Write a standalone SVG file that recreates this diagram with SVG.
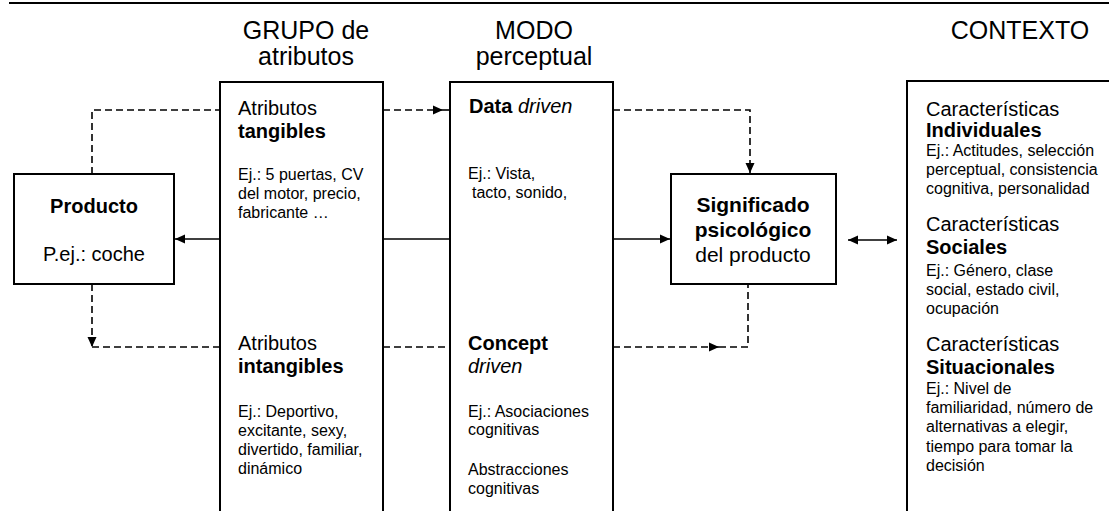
<svg xmlns="http://www.w3.org/2000/svg" width="1109" height="511" viewBox="0 0 1109 511">
<style>
text{font-family:"Liberation Sans",Arial,sans-serif;fill:#000}
.t{font-size:25px;text-anchor:middle}
.h{font-size:20px}
.e{font-size:16px}
.b{font-weight:bold}
.i{font-style:italic}
.c{text-anchor:middle}
.box{fill:#fff;stroke:#000;stroke-width:2}
.ln{fill:none;stroke:#000;stroke-width:1.6}
.ds{fill:none;stroke:#000;stroke-width:1.6;stroke-dasharray:7 4}
</style>
<defs>
<marker id="arr" markerUnits="userSpaceOnUse" markerWidth="11" markerHeight="10" refX="10" refY="5" orient="auto-start-reverse" viewBox="0 0 11 10">
<path d="M0,0.5 L10,5 L0,9.5 z" fill="#000"/>
</marker>
</defs>
<line x1="9" y1="3" x2="1109" y2="3" stroke="#000" stroke-width="2"/>
<g id="titles">
<text class="t" x="306" y="39">GRUPO de</text>
<text class="t" x="306" y="65">atributos</text>
<text class="t" x="534" y="39">MODO</text>
<text class="t" x="534" y="65">perceptual</text>
<text class="t" x="1020" y="39">CONTEXTO</text>
</g>
<g id="connectors">
<path class="ln" d="M220 239 H175" marker-end="url(#arr)"/>
<path class="ln" d="M383 239 H451"/>
<path class="ln" d="M613 239 H670" marker-end="url(#arr)"/>
<path class="ln" d="M848 240 H897" marker-start="url(#arr)" marker-end="url(#arr)"/>
<path class="ds" d="M92 174 V110 H220"/>
<path class="ds" d="M383 110 H443" marker-end="url(#arr)"/>
<path class="ds" d="M443 110 H450"/>
<path class="ds" d="M613 110 H750 V173" marker-end="url(#arr)"/>
<path class="ds" d="M92 284 V347" marker-end="url(#arr)"/>
<path class="ds" d="M92 347 H220"/>
<path class="ds" d="M383 347 H450"/>
<path class="ds" d="M613 347 H719" marker-end="url(#arr)"/>
<path class="ds" d="M719 347 H748 V284"/>
</g>
<g id="producto">
<rect class="box" x="14" y="174" width="160" height="110"/>
<text class="h b c" x="94" y="213">Producto</text>
<text class="h c" x="94" y="261">P.ej.: coche</text>
</g>
<g id="grupo">
<rect class="box" x="220" y="82" width="163" height="440"/>
<text class="h" x="238" y="115">Atributos</text>
<text class="h b" x="238" y="138">tangibles</text>
<text class="e" x="238" y="180">Ej.: 5 puertas, CV</text>
<text class="e" x="238" y="199">del motor, precio,</text>
<text class="e" x="238" y="218">fabricante …</text>
<text class="h" x="238" y="350">Atributos</text>
<text class="h b" x="238" y="373">intangibles</text>
<text class="e" x="238" y="417">Ej.: Deportivo,</text>
<text class="e" x="238" y="436">excitante, sexy,</text>
<text class="e" x="238" y="455">divertido, familiar,</text>
<text class="e" x="238" y="474">dinámico</text>
</g>
<g id="modo">
<rect class="box" x="450" y="82" width="163" height="440"/>
<text class="h" x="469" y="113"><tspan class="b">Data</tspan> <tspan class="i">driven</tspan></text>
<text class="e" x="468" y="179">Ej.: Vista,</text>
<text class="e" x="472" y="198">tacto, sonido,</text>
<text class="h b" x="468" y="350">Concept</text>
<text class="h i" x="468" y="373">driven</text>
<text class="e" x="468" y="417">Ej.: Asociaciones</text>
<text class="e" x="468" y="435">cognitivas</text>
<text class="e" x="468" y="475">Abstracciones</text>
<text class="e" x="468" y="494">cognitivas</text>
</g>
<g id="significado">
<rect class="box" x="671" y="174" width="165" height="110"/>
<text class="h b c" x="753" y="212" style="font-size:21px">Significado</text>
<text class="h b c" x="753" y="237" style="font-size:21px">psicológico</text>
<text class="h c" x="753" y="262" style="font-size:21px">del producto</text>
</g>
<g id="contexto">
<rect class="box" x="907" y="81" width="220" height="440"/>
<text class="h" x="926" y="116">Características</text>
<text class="h b" x="926" y="137">Individuales</text>
<text class="e" x="926" y="156">Ej.: Actitudes, selección</text>
<text class="e" x="926" y="175">perceptual, consistencia</text>
<text class="e" x="926" y="194">cognitiva, personalidad</text>
<text class="h" x="926" y="231">Características</text>
<text class="h b" x="926" y="254">Sociales</text>
<text class="e" x="926" y="276">Ej.: Género, clase</text>
<text class="e" x="926" y="295">social, estado civil,</text>
<text class="e" x="926" y="314">ocupación</text>
<text class="h" x="926" y="351">Características</text>
<text class="h b" x="926" y="374">Situacionales</text>
<text class="e" x="926" y="394">Ej.: Nivel de</text>
<text class="e" x="926" y="413">familiaridad, número de</text>
<text class="e" x="926" y="432">alternativas a elegir,</text>
<text class="e" x="926" y="452">tiempo para tomar la</text>
<text class="e" x="926" y="471">decisión</text>
</g>
</svg>
